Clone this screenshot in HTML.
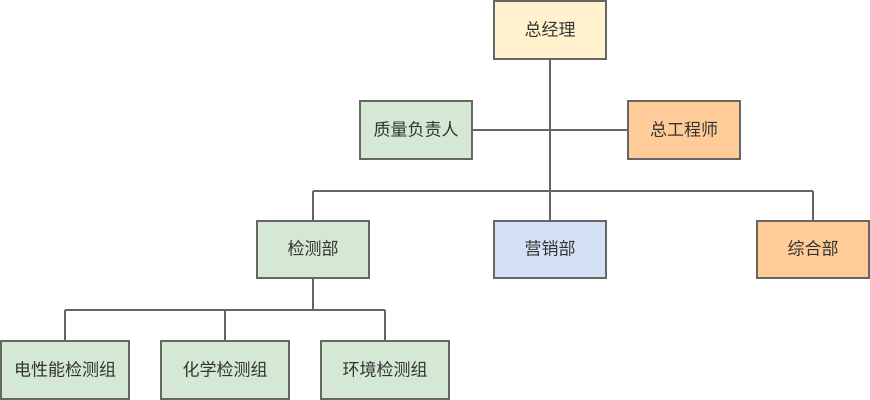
<!DOCTYPE html>
<html><head><meta charset="utf-8"><style>
html,body{margin:0;padding:0;background:#fff;width:870px;height:400px;overflow:hidden}
svg text{font-family:"Liberation Sans","Noto Sans CJK SC",sans-serif;font-size:17px;fill:#333;text-anchor:middle;dominant-baseline:central}
</style></head><body>
<svg width="870" height="400" xmlns="http://www.w3.org/2000/svg">
<g stroke="#666" stroke-width="2" fill="none">
<path d="M550 59V221M472 130H628M313 191H813M313 191V221M813 191V221M313 278V310M65 310H385M65 310V341M225 310V341M385 310V341"/>
</g>
<g stroke="#666" stroke-width="2">
<rect x="494" y="1" width="112" height="58" fill="#fff2cc"/>
<rect x="360" y="101" width="112" height="58" fill="#d5e8d4"/>
<rect x="628" y="101" width="112" height="58" fill="#ffcc99"/>
<rect x="257" y="221" width="112" height="57" fill="#d5e8d4"/>
<rect x="494" y="221" width="112" height="57" fill="#d4e1f5"/>
<rect x="757" y="221" width="112" height="57" fill="#ffcc99"/>
<rect x="1" y="341" width="128" height="58" fill="#d5e8d4"/>
<rect x="161" y="341" width="128" height="58" fill="#d5e8d4"/>
<rect x="321" y="341" width="128" height="58" fill="#d5e8d4"/>
</g>
<text x="550" y="30">总经理</text>
<text x="416" y="130">质量负责人</text>
<text x="684" y="130">总工程师</text>
<text x="313" y="249">检测部</text>
<text x="550" y="249">营销部</text>
<text x="813" y="249">综合部</text>
<text x="65" y="370">电性能检测组</text>
<text x="225" y="370">化学检测组</text>
<text x="385" y="370">环境检测组</text>
</svg>
</body></html>
